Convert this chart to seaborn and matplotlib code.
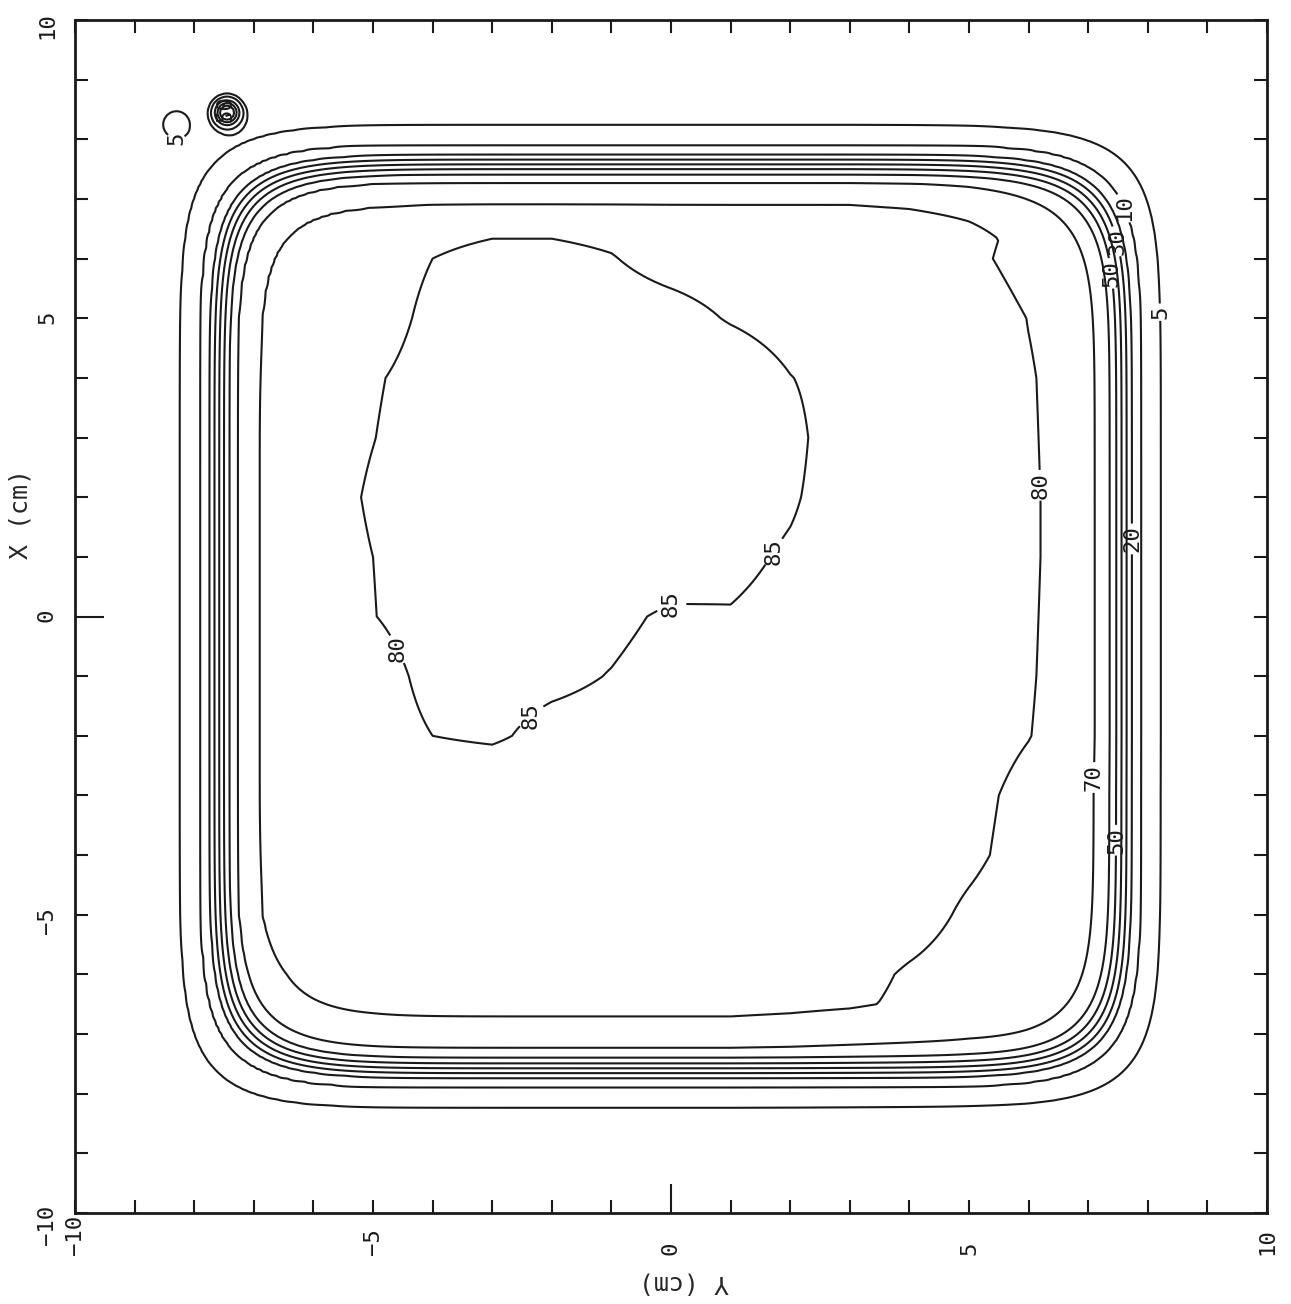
import numpy as np
import matplotlib
matplotlib.use("Agg")
import matplotlib.pyplot as plt
import seaborn as sns

# contour levels (% dose)
levels = [5, 10, 20, 30, 40, 50, 60, 70, 80, 85]

# penumbra: relative dose vs. distance from field centre (cm)
prof_r = [0, 6.5, 6.9, 7.28, 7.41, 7.5, 7.58, 7.66, 7.74, 7.9, 8.24, 8.8, 10, 15]
prof_f = [1, 1, 0.964, 0.843, 0.723, 0.602, 0.482, 0.361, 0.241, 0.12, 0.06, 0.01, 0, 0]

# dose in the open field, read on a 1 cm grid (rows X = 7 .. -7, cols Y = -7 .. 7)
grid_y = list(range(-7, 8))
grid_x = list(range(7, -8, -1))
core = [
    [83, 83, 83, 83, 83, 83, 83, 83, 83, 83, 83, 82.5, 81.5, 79.5, 78],
    [83, 83, 83, 85.0, 86, 86, 85.2, 83.5, 83, 83, 83, 82.5, 81, 78.5, 78],
    [83, 83, 83.1, 86, 87, 87, 87, 86.5, 84.7, 83.5, 83, 83, 82.5, 79.9, 78],
    [83, 83, 84.6, 86.5, 87.5, 88, 88, 88, 87.5, 85.1, 83.5, 83, 82, 80.3, 78],
    [83, 83, 84.9, 87, 88, 88.5, 88.5, 88, 87.5, 86, 82.7, 83, 82, 80.4, 78],
    [83, 83, 85.5, 87, 87.5, 88, 88, 87.5, 86.5, 85.4, 83.2, 83, 82, 80.5, 78],
    [83, 83, 85.0, 86.5, 87, 87.5, 87, 86.5, 85.8, 84.6, 83.5, 83, 82, 80.5, 78],
    [83, 83, 84.9, 86.5, 86.5, 86, 85.6, 84.6, 84.8, 84, 83.5, 83, 82, 80.4, 78],
    [83, 83, 83.5, 86, 86, 85.6, 84.9, 84, 84, 83.5, 83, 83, 82, 80.3, 78],
    [83, 83, 83.5, 85.0, 85.4, 84.2, 84, 83.5, 83.5, 83, 83, 82.5, 81.5, 80.1, 78],
    [83, 83, 83, 83, 82.7, 83, 83, 83, 83, 83, 83, 82.5, 81, 79, 77.5],
    [83, 83, 83, 83, 83, 83, 83, 83, 83, 83, 82.8, 82, 80.7, 78.7, 77.5],
    [83, 83, 83, 83, 83, 83, 83, 83, 83, 82.8, 82.3, 81.5, 79.4, 78, 77.5],
    [82, 81.8, 81.5, 81.5, 81.5, 81.5, 81.5, 81.5, 81.5, 81.3, 81.2, 79.6, 78.5, 78, 77.5],
    [81.5, 81.5, 81.5, 81.5, 81.5, 81.5, 81.5, 81.5, 81.5, 81, 80, 79, 78, 78, 77.5],
]

# small stray hot spots in the upper-left corner
spot_y = [-8.3, -7.45]
spot_x = [8.25, 8.45]
spot_peak = [8, 55]
spot_w = [0.2, 0.14]

# where the contour labels sit
label_at = [(-8.3, 8.05), (-7.45, 8.45), (8.15, 5.1), (6.2, 2.2), (7.7, 1.3),
            (1.55, 1.2), (0.0, 0.5), (-4.9, -0.7), (-2.4, -1.6), (7.15, -2.7),
            (7.45, -3.75), (7.36, 5.75), (7.52, 6.3), (7.75, 6.95)]
# the left-hand label of the 85 region is printed as "80" in the original
label_text = {(-4.9, -0.7): '80'}

ticks = [-10, -5, 0, 5, 10]

sns.set_style("white")
plt.rcParams['font.family'] = ['DejaVu Sans Mono', 'DejaVu Sans']
plt.rcParams.update({
    'xtick.bottom': True, 'xtick.top': True, 'ytick.left': True, 'ytick.right': True,
    'xtick.direction': 'in', 'ytick.direction': 'in',
    'xtick.color': '#1a1a1a', 'ytick.color': '#1a1a1a',
})

# build the dose map
ys = np.linspace(-10, 10, 401)
xs = np.linspace(-10, 10, 401)
Y, X = np.meshgrid(ys, xs)

core_a = np.array(core)[::-1]
gx = np.array(grid_x)[::-1]
tmp = np.array([np.interp(ys, grid_y, row) for row in core_a])
field = np.array([np.interp(xs, gx, tmp[:, j]) for j in range(len(ys))]).T

n = 9
r = (np.abs(Y) ** n + np.abs(X) ** n) ** (1.0 / n)
dose = field * np.interp(r, prof_r, prof_f)
for sy, sx, pk, w in zip(spot_y, spot_x, spot_peak, spot_w):
    dose += pk * np.exp(-((Y - sy) ** 2 + (X - sx) ** 2) / (2 * w ** 2))

fig = plt.figure(figsize=(12.91, 13.04), dpi=100)
ax = fig.add_axes([75 / 1291, 1 - 1213 / 1304, 1192 / 1291, 1193 / 1304])

cs = ax.contour(Y, X, dose, levels=levels, colors='#1a1a1a', linewidths=1.5)
txts = ax.clabel(cs, fmt='%d', manual=label_at, inline=True, inline_spacing=2, fontsize=16)
for t in txts:
    t.set_rotation(90)
    t.set_color('#1a1a1a')
    px, py = t.get_position()
    for (lx, ly), s in label_text.items():
        if abs(px - lx) < 0.6 and abs(py - ly) < 0.6:
            t.set_text(s)

ax.set_xlim(-10, 10)
ax.set_ylim(-10, 10)
ax.set_xticks(ticks)
ax.set_yticks(ticks)
ax.set_xticks(np.arange(-10, 11), minor=True)
ax.set_yticks(np.arange(-10, 11), minor=True)
ax.tick_params(which='both', direction='in', bottom=True, left=True, top=True, right=True,
               length=9.5, width=1.5, color='#1a1a1a')
ax.tick_params(axis='x', labelsize=16, labelrotation=90, pad=30)
ax.tick_params(axis='y', labelsize=16, labelrotation=90, pad=13)
for lab in ax.get_xticklabels():
    lab.set_va('bottom')

# the zero tick on the bottom / left edge is drawn longer
ax.xaxis.get_major_ticks()[ticks.index(0)].tick1line.set_markersize(21)
ax.yaxis.get_major_ticks()[ticks.index(0)].tick1line.set_markersize(21)

for s in ax.spines.values():
    s.set_linewidth(2)
    s.set_color('#1a1a1a')

fig.text(21 / 1291, 1 - 514 / 1304, 'X (cm)', rotation=90, ha='center', va='center', fontsize=18)
fig.text(684 / 1291, 1 - 1283 / 1304, 'Y (cm)', rotation=180, ha='center', va='center', fontsize=18)

fig.savefig('out.png', dpi=100, facecolor='white')
